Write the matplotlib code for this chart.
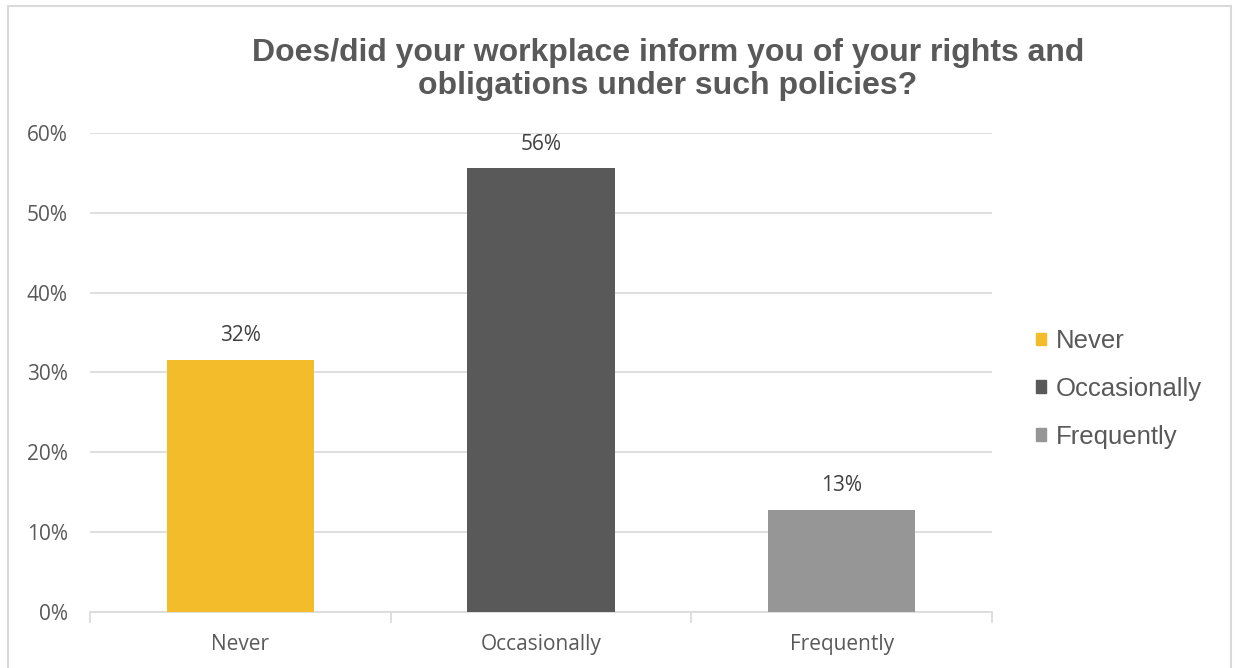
import matplotlib.pyplot as plt
from matplotlib.patches import Rectangle
from matplotlib.ticker import FuncFormatter, MultipleLocator
import numpy as np

categories = ["Never", "Occasionally", "Frequently"]
shares = [31.6, 55.6, 12.8]  # percent of respondents
colors = ["#F3BC2A", "#595959", "#969696"]
title = "Does/did your workplace inform you of your rights and\nobligations under such policies?"

W, H = 1237, 668
fig = plt.figure(figsize=(W / 100, H / 100), dpi=100)

# outer chart border (bottom edge falls off the canvas)
fig.patches.append(Rectangle((8 / W, -0.01), (1231 - 8) / W, 1.01 - 6 / H,
                             transform=fig.transFigure, fill=False,
                             edgecolor="#D9D9D9", linewidth=1.5))

ax = fig.add_axes([90 / W, 1 - 612 / H, (992 - 90) / W, (612 - 133) / H])

x = np.arange(len(categories))
values = np.array(shares) / 100
bars = ax.bar(x, values, width=0.49, color=colors, label=categories, zorder=3)

for b, v in zip(bars, shares):
    ax.text(b.get_x() + b.get_width() / 2, b.get_height() + 0.017,
            f"{v:.0f}%", ha="center", va="bottom", fontsize=15,
            family="Open Sans", color="#404040")

ax.set_xlim(-0.5, 2.5)
ax.set_ylim(0, 0.6)
ax.yaxis.set_major_locator(MultipleLocator(0.1))
ax.yaxis.set_major_formatter(FuncFormatter(lambda v, _: f"{v * 100:.0f}%"))
ax.grid(axis="y", color="#D9D9D9", linewidth=1.2, zorder=0)

for s in ["top", "right", "left"]:
    ax.spines[s].set_visible(False)
ax.spines["bottom"].set_color("#D9D9D9")
ax.spines["bottom"].set_linewidth(1.2)

ax.set_xticks(x)
ax.set_xticklabels(categories, family="Open Sans", fontsize=15, color="#595959")
ax.tick_params(axis="x", length=0, pad=16)
# category boundary ticks
ax.set_xticks(np.arange(-0.5, 3, 1), minor=True)
ax.tick_params(axis="x", which="minor", length=8, width=1.2, color="#D9D9D9")
ax.tick_params(axis="y", length=0, pad=16, labelcolor="#595959", labelsize=15)
for lbl in ax.get_yticklabels():
    lbl.set_family("Open Sans")

fig.text(668 / W, 1 - 38 / H, title, ha="center", va="top", fontsize=23,
         fontweight="bold", family="Liberation Sans", color="#595959",
         linespacing=1.12)

handles = [Rectangle((0, 0), 1, 1, color=c) for c in colors]
fig.legend(handles, categories, loc="center left",
           bbox_to_anchor=(1013 / W, 1 - 389 / H), frameon=False,
           prop={"family": "Liberation Sans", "size": 18.5},
           labelcolor="#595959", handlelength=0.38, handleheight=0.38,
           handletextpad=0.4, labelspacing=0.92)

fig.savefig("out.png", dpi=100, facecolor="white")
